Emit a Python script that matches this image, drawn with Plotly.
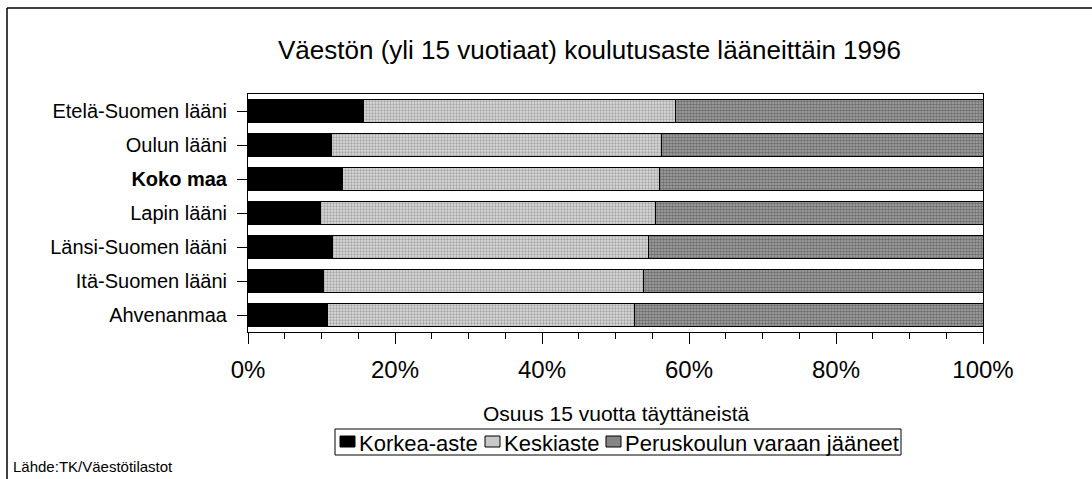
import plotly.graph_objects as go

# Education level of population aged over 15, by province, 1996 (percent)
regions = [
    "Etelä-Suomen lääni",
    "Oulun lääni",
    "Koko maa",
    "Lapin lääni",
    "Länsi-Suomen lääni",
    "Itä-Suomen lääni",
    "Ahvenanmaa",
]
korkea_aste = [15.7, 11.4, 12.9, 9.9, 11.5, 10.3, 10.8]
keskiaste = [42.5, 44.8, 43.1, 45.5, 43.0, 43.5, 41.8]
peruskoulu = [41.8, 43.8, 44.0, 44.6, 45.5, 46.2, 47.4]

series_names = ["Korkea-aste", "Keskiaste", "Peruskoulun varaan jääneet"]

x_ticks = [0, 20, 40, 60, 80, 100]
x_tick_labels = ["0%", "20%", "40%", "60%", "80%", "100%"]

FONT = "Liberation Sans, Arial, Helvetica, sans-serif"
W, H = 1092, 479
M_L, M_R, M_T, M_B = 248, 109, 94, 147

# fills: solid black, light stipple, dark stipple
swatch_colors = ["#000000", "#c9c9c9", "#858585"]
patterns = [
    None,
    dict(shape=".", fgcolor="#6e6e6e", bgcolor="#dadada", size=3, solidity=0.45),
    dict(shape=".", fgcolor="#333333", bgcolor="#a6a6a6", size=3, solidity=0.55),
]

y_labels = ["<b>%s</b>" % r if r == "Koko maa" else r for r in regions]

fig = go.Figure()
for name, vals, col, pat in zip(series_names, [korkea_aste, keskiaste, peruskoulu],
                                swatch_colors, patterns):
    marker = dict(color=col, line=dict(color="#000000", width=1))
    if pat:
        marker["pattern"] = pat
    fig.add_trace(go.Bar(name=name, y=regions, x=vals, orientation="h",
                         marker=marker, showlegend=False))

pw = W - M_L - M_R
ph = H - M_T - M_B


def px_x(p):
    return (p - M_L) / pw


def px_y(p):
    return (H - M_B - p) / ph


annotations = [
    dict(text="Väestön (yli 15 vuotiaat) koulutusaste lääneittäin 1996",
         x=px_x(589), y=px_y(50), xanchor="center", yanchor="middle",
         font=dict(size=26)),
    dict(text="Osuus 15 vuotta täyttäneistä",
         x=px_x(616), y=px_y(413), xanchor="center", yanchor="middle",
         font=dict(size=21)),
    dict(text="Lähde:TK/Väestötilastot",
         x=px_x(11), y=px_y(466), xanchor="left", yanchor="middle",
         font=dict(size=15)),
]

shapes = [
    # outer frame (left and top edges fall inside the page)
    dict(type="line", x0=px_x(7), x1=px_x(7), y0=px_y(8), y1=px_y(H + 5),
         line=dict(color="black", width=1.5)),
    dict(type="line", x0=px_x(7), x1=px_x(W + 5), y0=px_y(8), y1=px_y(8),
         line=dict(color="black", width=1.5)),
    # legend box
    dict(type="rect", x0=px_x(335), x1=px_x(901), y0=px_y(429), y1=px_y(455),
         line=dict(color="black", width=1), fillcolor="white"),
]

# legend entries: swatch directly followed by its label
LEG_Y = 442
swatch_x = [340, 485, 606]
for name, col, sx in zip(series_names, swatch_colors, swatch_x):
    shapes.append(dict(type="rect", x0=px_x(sx), x1=px_x(sx + 15),
                       y0=px_y(LEG_Y - 6), y1=px_y(LEG_Y + 5),
                       line=dict(color="black", width=1), fillcolor=col))
    annotations.append(dict(text=name, x=px_x(sx + 17), y=px_y(LEG_Y + 1),
                            xanchor="left", yanchor="middle",
                            font=dict(size=22)))

for a in annotations:
    a.update(xref="paper", yref="paper", showarrow=False)
    a["font"]["family"] = FONT
    a["font"]["color"] = "black"
for s in shapes:
    s.update(xref="paper", yref="paper")

fig.update_layout(
    width=W, height=H,
    margin=dict(l=M_L, r=M_R, t=M_T, b=M_B, pad=0),
    barmode="stack", bargap=0.33,
    paper_bgcolor="white", plot_bgcolor="white",
    font=dict(family=FONT, color="black"),
    showlegend=False,
    xaxis=dict(
        range=[0, 100], tickvals=x_ticks, ticktext=x_tick_labels,
        ticks="outside", ticklen=11, tickcolor="black", tickwidth=1,
        ticklabelstandoff=5,
        minor=dict(dtick=5, ticks="outside", ticklen=6, tickcolor="black"),
        showline=True, linecolor="black", linewidth=1, mirror=True,
        showgrid=False, zeroline=False,
        tickfont=dict(size=24, family=FONT),
    ),
    yaxis=dict(
        categoryorder="array", categoryarray=regions, autorange="reversed",
        tickvals=regions, ticktext=y_labels,
        ticks="outside", ticklen=10, tickcolor="black",
        ticklabelstandoff=6,
        showline=True, linecolor="black", linewidth=1, mirror=True,
        showgrid=False, tickfont=dict(size=20, family=FONT),
    ),
    annotations=annotations,
    shapes=shapes,
)

fig.write_html("out.html")
